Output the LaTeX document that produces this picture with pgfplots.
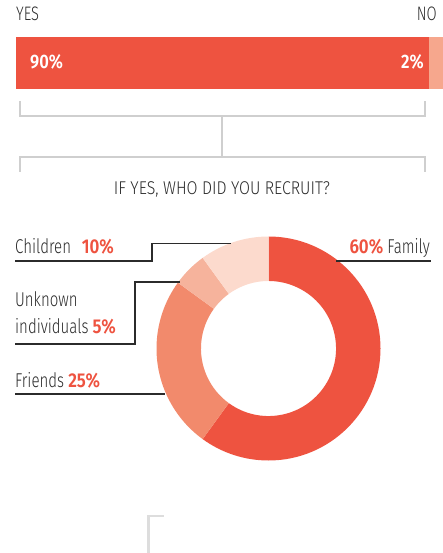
\documentclass[border=0pt]{standalone}
\usepackage{fontspec}
\setmainfont{Fira Sans}[UprightFont={* Light},BoldFont={* SemiBold},FakeStretch=0.75,BoldFeatures={FakeStretch=0.85}]
\newfontfamily\titlefont{Fira Sans}[UprightFont={* Light},FakeStretch=0.86]
\usepackage{pgfplots}
\pgfplotsset{compat=1.18}
\usepackage{pgfplotstable}
\definecolor{cRed}{HTML}{EE5340}
\definecolor{cFriends}{HTML}{F28A6C}
\definecolor{cUnknown}{HTML}{F6B39C}
\definecolor{cChildren}{HTML}{FCDACD}
\definecolor{cBarLight}{HTML}{F6A78D}
\definecolor{cGray}{HTML}{CFCFCF}
\definecolor{cGrayB}{HTML}{DDDDDD}
\definecolor{cDark}{HTML}{2B2B2B}
\pgfplotstableread{
name value
Family 60
Friends 25
Unknown 5
Children 10
}\donutdata
\newcommand{\sector}[3]{%
  \fill[#1] (axis cs:{cos(#2)},{sin(#2)}) arc[start angle=#2,end angle=#3,radius=1]
    -- (axis cs:{0.603*cos(#3)},{0.603*sin(#3)}) arc[start angle=#3,end angle=#2,radius=0.603] -- cycle;}
\begin{document}
\begin{tikzpicture}[x=1pt,y=-1pt]
\useasboundingbox (0,0) rectangle (443,553);
% top bar
\begin{axis}[at={(16pt,-37pt)},anchor=north west,scale only axis,
  width=427pt,height=52pt,xbar stacked,bar width=1,
  xmin=0,xmax=93.05,ymin=-0.5,ymax=0.5,hide axis,clip=false]
\addplot[fill=cRed,draw=none] coordinates {(90,0)};
\addplot[fill=cBarLight,draw=none] coordinates {(3.05,0)};
\end{axis}
\node[anchor=base west,inner sep=0,text=white,font=\fontsize{19.5}{19}\selectfont\bfseries] at (30,69) {90\%};
\node[anchor=base east,inner sep=0,text=white,font=\fontsize{19.5}{19}\selectfont\bfseries] at (424,69) {2\%};
% donut
\pgfplotstablegetelem{0}{value}\of\donutdata \let\vA\pgfplotsretval
\pgfplotstablegetelem{1}{value}\of\donutdata \let\vB\pgfplotsretval
\pgfplotstablegetelem{2}{value}\of\donutdata \let\vC\pgfplotsretval
\pgfplotstablegetelem{3}{value}\of\donutdata \let\vD\pgfplotsretval
\pgfmathsetmacro{\aA}{90-3.6*\vA}
\pgfmathsetmacro{\aB}{\aA-3.6*\vB}
\pgfmathsetmacro{\aC}{\aB-3.6*\vC}
\pgfmathsetmacro{\aD}{\aC-3.6*\vD}
\begin{axis}[at={(268.5pt,-348.5pt)},anchor=center,scale only axis,
  width=224pt,height=224pt,xmin=-1,xmax=1,ymin=-1,ymax=1,hide axis,clip=false]
\sector{cRed}{90}{\aA}
\sector{cFriends}{\aA}{\aB}
\sector{cUnknown}{\aB}{\aC}
\sector{cChildren}{\aC}{\aD}
\end{axis}
% top texts
\node[anchor=base west,inner sep=0,text=cDark,font=\fontsize{19.5}{20}\selectfont] at (16,21) {YES};
\node[anchor=base east,inner sep=0,text=cDark,font=\fontsize{19.5}{20}\selectfont] at (437,21) {NO};
% brackets
\draw[cGray,line width=2.5pt] (20,101) -- (20,116) -- (425,116) -- (425,101);
\draw[cGray,line width=2.5pt] (222,116) -- (222,157);
\draw[cGray,line width=2.5pt] (20,172) -- (20,157) -- (425,157) -- (425,172);
\draw[cGrayB,line width=2.5pt] (148.5,553) -- (148.5,516) -- (164,516);
\node[anchor=base,inner sep=0,text=cDark,font=\titlefont\fontsize{18.5}{19}\selectfont] at (222,194) {IF YES, WHO DID YOU RECRUIT?};
% labels
\begin{scope}[every node/.style={inner sep=0,text=cDark,font=\fontsize{20}{20}\selectfont}]
\node[anchor=base west] at (15,253) {Children\,\, {\bfseries\color{cRed}10\%}};
\node[anchor=base east] at (430,253) {{\bfseries\color{cRed}60\%} Family};
\node[anchor=base west] at (15,306) {Unknown};
\node[anchor=base west] at (15,333) {individuals {\bfseries\color{cRed}5\%}};
\node[anchor=base west] at (15,387) {Friends {\bfseries\color{cRed}25\%}};
\end{scope}
\draw[cDark,line width=1.1pt] (15,261) -- (152,261) -- (152,243.5) -- (231,243.5);
\draw[cDark,line width=1.1pt] (15,344) -- (135,344) -- (135,282) -- (180,282);
\draw[cDark,line width=1.1pt] (15,394) -- (165,394);
\draw[cDark,line width=1.1pt] (336,261) -- (431,261);
\end{tikzpicture}
\end{document}
